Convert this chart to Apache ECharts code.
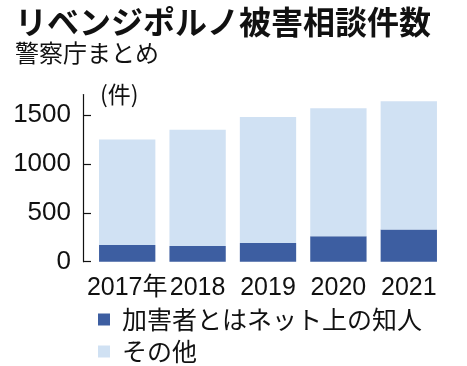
<!DOCTYPE html>
<html>
<head>
<meta charset="utf-8">
<script src="https://cdn.jsdelivr.net/npm/echarts@6/dist/echarts.min.js"></script>
<style>
html,body{margin:0;padding:0;background:#fff;}
#c{width:467px;height:366px;}
</style>
</head>
<body>
<div id="c"></div>
<script>
const titleText = 'リベンジポルノ被害相談件数';
const subtitleText = '警察庁まとめ';
const unitText = '(件)';
const categories = ['2017年', '2018', '2019', '2020', '2021'];
const seriesNames = ['加害者とはネット上の知人', 'その他'];
const acquaintance = [170, 160, 190, 260, 330];
const others = [1080, 1190, 1290, 1310, 1310];
const yTicks = [0, 500, 1000, 1500];

const numFont = '"Liberation Sans", "Noto Sans CJK JP", sans-serif';
const jpFont = '"Noto Sans CJK JP", sans-serif';

const legendBase = {
  left: 98,
  padding: 0,
  itemWidth: 12,
  itemHeight: 12,
  icon: 'rect',
  textStyle: {fontFamily: jpFont, fontSize: 25, color: '#111', padding: [0, 0, 0, 7]}
};

const chart = echarts.init(document.getElementById('c'), null, {renderer: 'canvas'});
chart.setOption({
  animation: false,
  backgroundColor: '#fff',
  title: [
    {text: titleText, left: 10, top: 1, textStyle: {fontFamily: jpFont, fontSize: 32, fontWeight: 'bold', color: '#111'}},
    {text: subtitleText, left: 10, top: 36, textStyle: {fontFamily: jpFont, fontSize: 24, fontWeight: 'normal', color: '#111'}},
    {text: unitText, left: 95, top: 78, textStyle: {fontFamily: jpFont, fontSize: 23, fontWeight: 'normal', color: '#111'}}
  ],
  legend: [
    Object.assign({}, legendBase, {top: 307, data: [seriesNames[0]]}),
    Object.assign({}, legendBase, {top: 339, data: [seriesNames[1]]})
  ],
  grid: {left: 92, right: 23, top: 94.5, bottom: 104.3, containLabel: false},
  xAxis: {
    type: 'category',
    data: categories,
    axisLine: {show: false},
    axisTick: {show: false},
    axisLabel: {interval: 0, hideOverlap: false, margin: 14, fontFamily: numFont, fontSize: 25, color: '#111'}
  },
  yAxis: {
    type: 'value',
    min: 0,
    max: 1710,
    offset: 9,
    splitLine: {show: false},
    axisLine: {show: true, lineStyle: {color: '#111', width: 1.2}},
    axisTick: {show: true, inside: true, length: 8, lineStyle: {color: '#111', width: 1.2}, customValues: yTicks},
    axisLabel: {margin: 12, fontFamily: numFont, fontSize: 26, color: '#111', customValues: yTicks, formatter: v => String(v)}
  },
  series: [
    {name: seriesNames[0], type: 'bar', stack: 'total', data: acquaintance, barCategoryGap: '20%', itemStyle: {color: '#3d5ea1'}},
    {name: seriesNames[1], type: 'bar', stack: 'total', data: others, barCategoryGap: '20%', itemStyle: {color: '#d0e1f3'}}
  ]
});
</script>
</body>
</html>
